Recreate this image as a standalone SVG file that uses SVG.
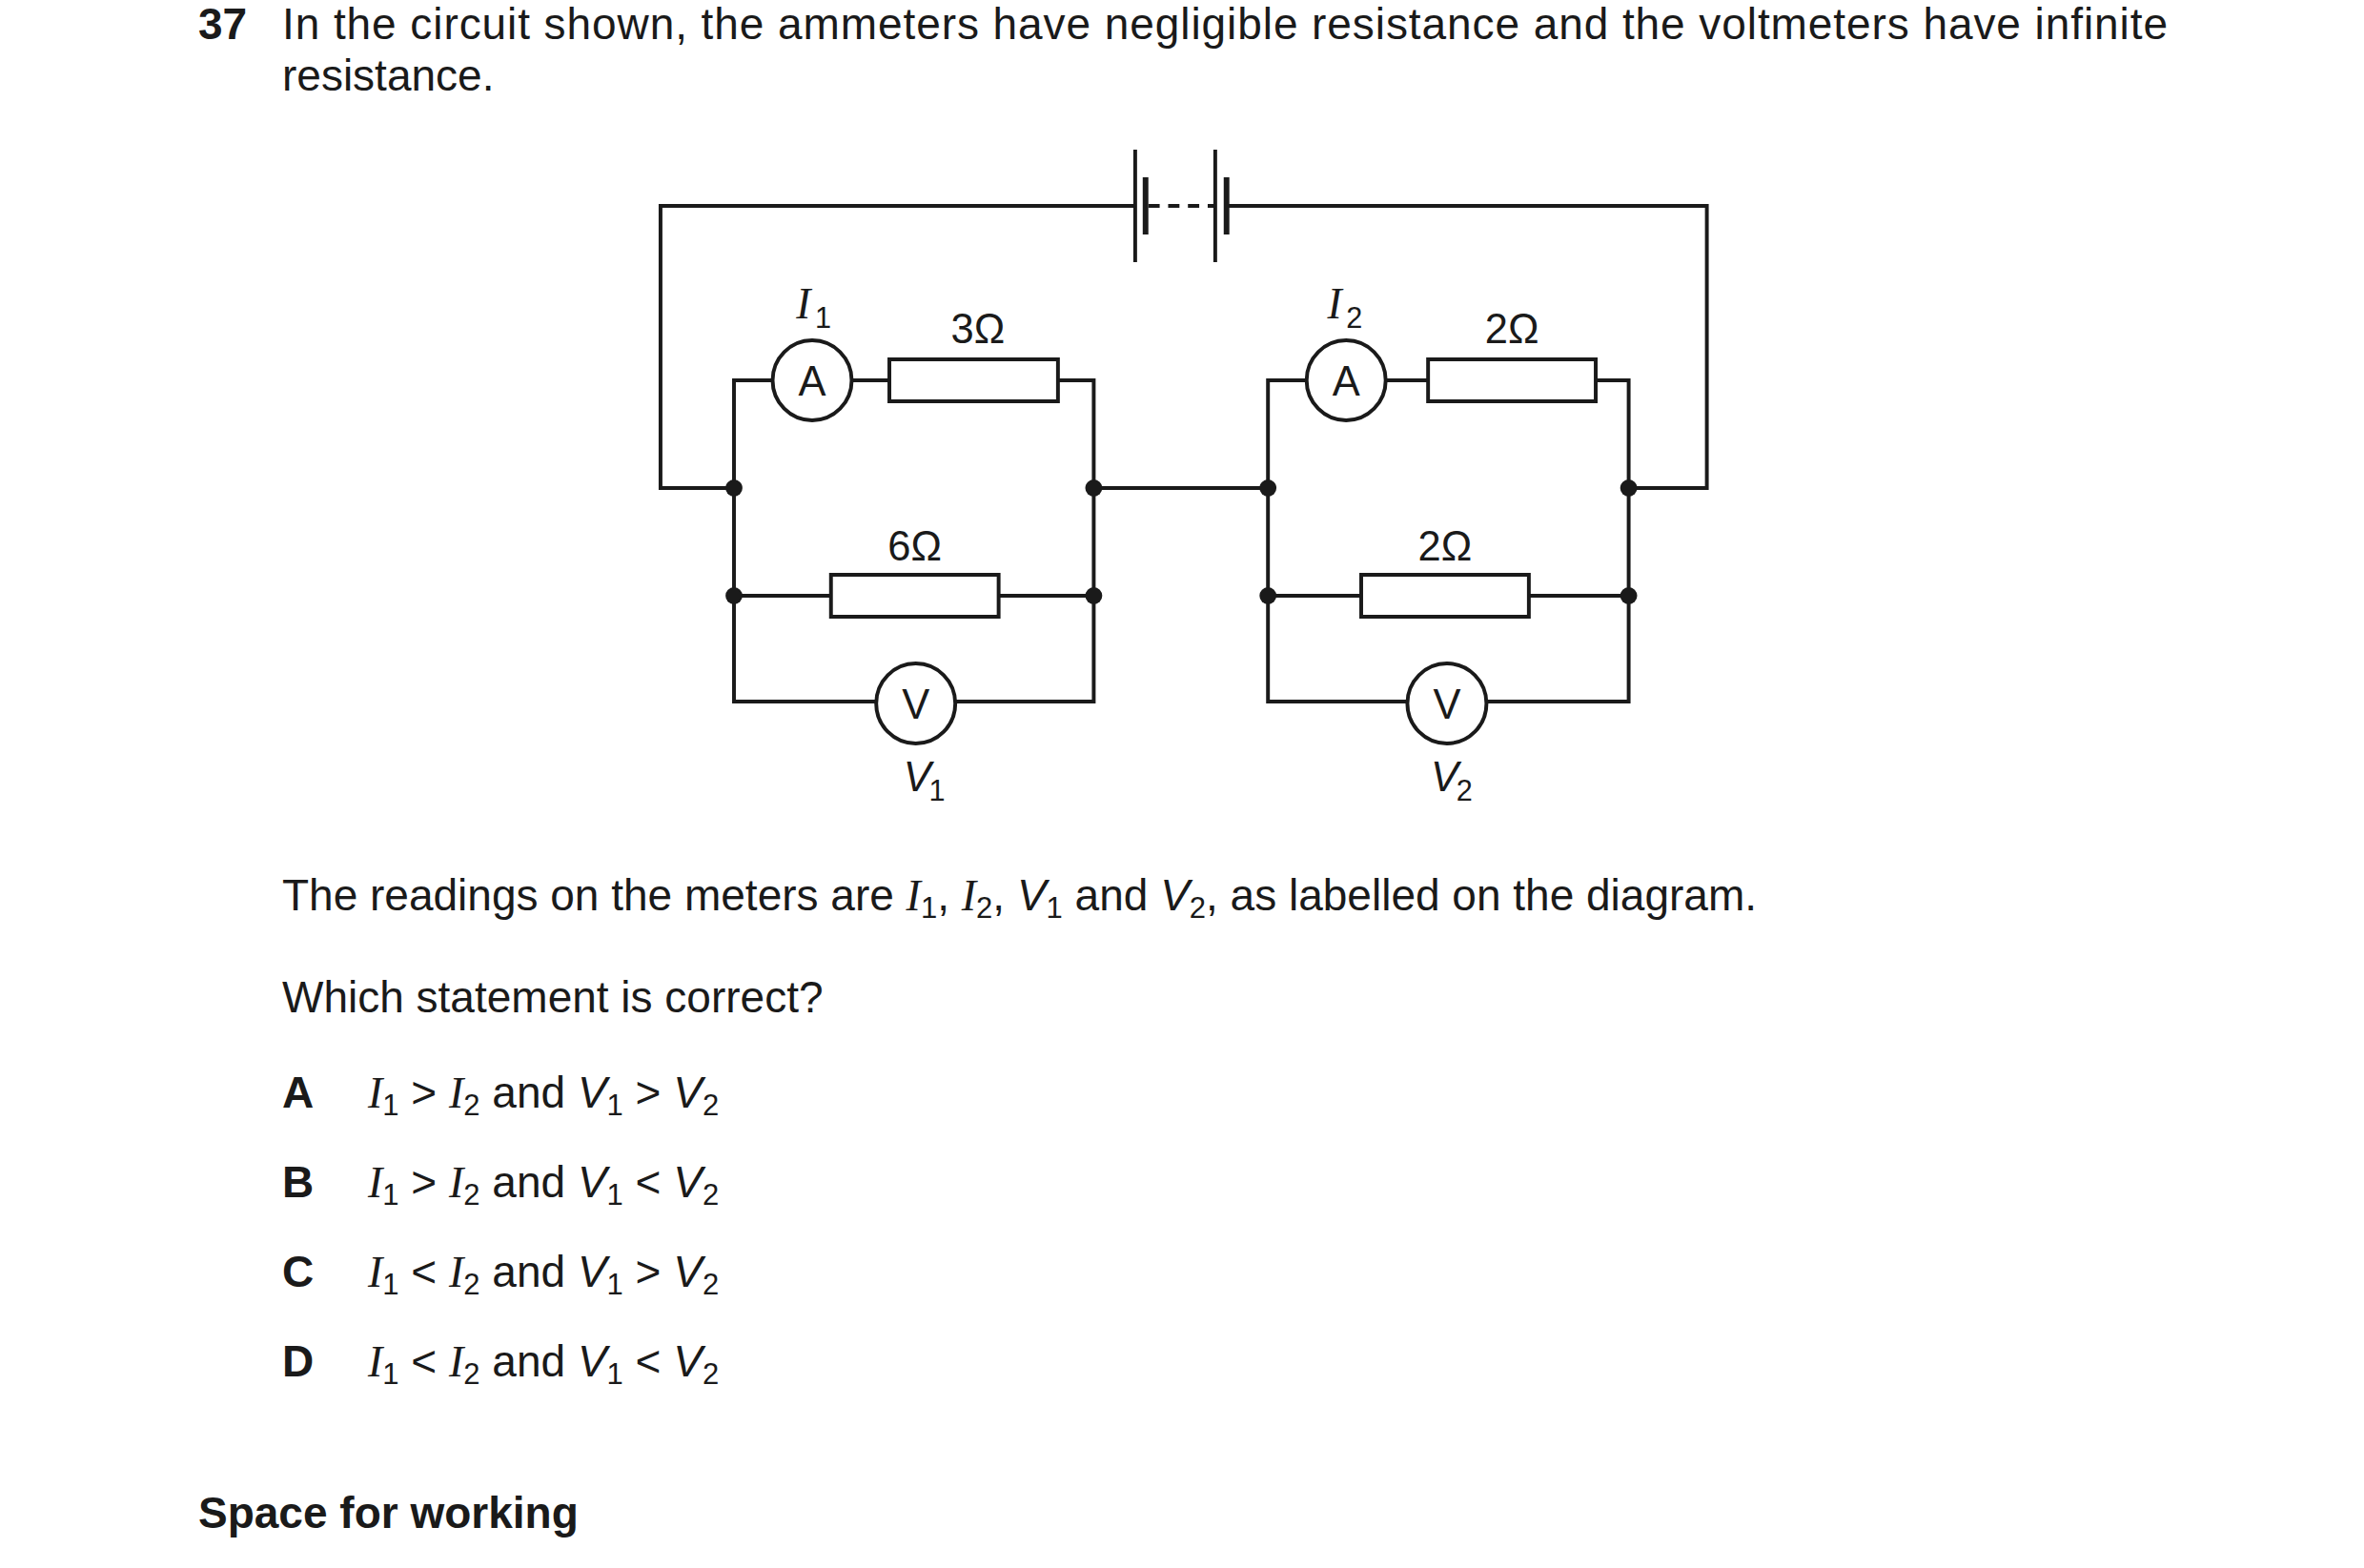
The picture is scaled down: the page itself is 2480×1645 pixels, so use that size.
<svg xmlns="http://www.w3.org/2000/svg" width="2480" height="1645" viewBox="0 0 2480 1645">
<style>
.w{fill:none;stroke:#1a1a1a;stroke-width:4}
.r{fill:#fff;stroke:#1a1a1a;stroke-width:4}
.d{fill:#1a1a1a}
text{font-family:"Liberation Sans",Arial,sans-serif;fill:#1a1a1a}
.t{font-size:46px}
.b{font-weight:bold}
.l{font-size:44px}
.i{font-family:"Liberation Serif","Times New Roman",serif;font-style:italic}
.s{font-size:31px}
</style>
<rect width="2480" height="1645" fill="#fff"/>
<g id="question">
<text class="t b" x="208" y="41">37</text>
<text class="t" x="296" y="41" textLength="1978" lengthAdjust="spacing">In the circuit shown, the ammeters have negligible resistance and the voltmeters have infinite</text>
<text class="t" x="296" y="95">resistance.</text>
</g>
<g transform="translate(770,0) scale(0.988,1) translate(-770,0)">
<g id="connectors">
<polyline class="w" points="770,512 692,512 692,216 1196,216"/>
<polyline class="w" points="1293,216 1803,216 1803,512 1720,512"/>
<line class="w" x1="1210" y1="216" x2="1281" y2="216" stroke-dasharray="12,9"/>
<polyline class="w" points="811,399 770,399 770,736 921,736"/>
<line class="w" x1="895" y1="399" x2="935" y2="399"/>
<polyline class="w" points="1114,399 1152,399 1152,736 1005,736"/>
<line class="w" x1="770" y1="625" x2="873" y2="625"/>
<line class="w" x1="1051" y1="625" x2="1152" y2="625"/>
<line class="w" x1="1152" y1="512" x2="1337" y2="512"/>
<polyline class="w" points="1378,399 1337,399 1337,736 1485,736"/>
<line class="w" x1="1462" y1="399" x2="1507" y2="399"/>
<polyline class="w" points="1685,399 1720,399 1720,736 1569,736"/>
<line class="w" x1="1337" y1="625" x2="1436" y2="625"/>
<line class="w" x1="1614" y1="625" x2="1720" y2="625"/>
</g>
<g id="battery">
<line class="w" x1="1196" y1="157" x2="1196" y2="275"/>
<line x1="1207" y1="186" x2="1207" y2="246" stroke="#1a1a1a" stroke-width="6"/>
<line class="w" x1="1281" y1="157" x2="1281" y2="275"/>
<line x1="1293" y1="186" x2="1293" y2="246" stroke="#1a1a1a" stroke-width="6"/>
</g>
<g id="junctions">
<circle class="d" cx="770" cy="512" r="9"/><circle class="d" cx="1152" cy="512" r="9"/>
<circle class="d" cx="1337" cy="512" r="9"/><circle class="d" cx="1720" cy="512" r="9"/>
<circle class="d" cx="770" cy="625" r="9"/><circle class="d" cx="1152" cy="625" r="9"/>
<circle class="d" cx="1337" cy="625" r="9"/><circle class="d" cx="1720" cy="625" r="9"/>
</g>
<g id="ammeter1"><circle class="r" cx="853" cy="399" r="42"/><text class="l" x="853" y="415" text-anchor="middle">A</text>
<text x="836" y="334" font-size="46" class="i">I</text><text class="s" x="856" y="344">1</text></g>
<g id="res3"><rect class="r" x="935" y="377" width="179" height="44"/><text class="l" x="1029" y="360" text-anchor="middle">3Ω</text></g>
<g id="res6"><rect class="r" x="873" y="603" width="178" height="44"/><text class="l" x="962" y="588" text-anchor="middle">6Ω</text></g>
<g id="volt1"><circle class="r" cx="963" cy="738" r="42"/><text class="l" x="963" y="754" text-anchor="middle">V</text>
<text font-size="44" font-style="italic" x="950" y="830">V</text><text class="s" x="977" y="840">1</text></g>
<g id="ammeter2"><circle class="r" cx="1420" cy="399" r="42"/><text class="l" x="1420" y="415" text-anchor="middle">A</text>
<text x="1400" y="334" font-size="46" class="i">I</text><text class="s" x="1420" y="344">2</text></g>
<g id="res2a"><rect class="r" x="1507" y="377" width="178" height="44"/><text class="l" x="1596" y="360" text-anchor="middle">2Ω</text></g>
<g id="res2b"><rect class="r" x="1436" y="603" width="178" height="44"/><text class="l" x="1525" y="588" text-anchor="middle">2Ω</text></g>
<g id="volt2"><circle class="r" cx="1527" cy="738" r="42"/><text class="l" x="1527" y="754" text-anchor="middle">V</text>
<text font-size="44" font-style="italic" x="1510" y="830">V</text><text class="s" x="1537" y="840">2</text></g>
</g>
<g id="body">
<text class="t" x="296" y="955">The readings on the meters are <tspan class="i">I</tspan><tspan class="s" dy="8">1</tspan><tspan dy="-8">, </tspan><tspan class="i">I</tspan><tspan class="s" dy="8">2</tspan><tspan dy="-8">, </tspan><tspan font-style="italic">V</tspan><tspan class="s" dy="8">1</tspan><tspan dy="-8"> and </tspan><tspan font-style="italic">V</tspan><tspan class="s" dy="8">2</tspan><tspan dy="-8">, as labelled on the diagram.</tspan></text>
<text class="t" x="296" y="1062">Which statement is correct?</text>
<text class="t b" x="296" y="1162">A</text>
<text class="t b" x="296" y="1256">B</text>
<text class="t b" x="296" y="1350">C</text>
<text class="t b" x="296" y="1444">D</text>
<text class="t" x="386" y="1162"><tspan class="i">I</tspan><tspan class="s" dy="8">1</tspan><tspan dy="-8"> &gt; </tspan><tspan class="i">I</tspan><tspan class="s" dy="8">2</tspan><tspan dy="-8"> and </tspan><tspan font-style="italic">V</tspan><tspan class="s" dy="8">1</tspan><tspan dy="-8"> &gt; </tspan><tspan font-style="italic">V</tspan><tspan class="s" dy="8">2</tspan></text>
<text class="t" x="386" y="1256"><tspan class="i">I</tspan><tspan class="s" dy="8">1</tspan><tspan dy="-8"> &gt; </tspan><tspan class="i">I</tspan><tspan class="s" dy="8">2</tspan><tspan dy="-8"> and </tspan><tspan font-style="italic">V</tspan><tspan class="s" dy="8">1</tspan><tspan dy="-8"> &lt; </tspan><tspan font-style="italic">V</tspan><tspan class="s" dy="8">2</tspan></text>
<text class="t" x="386" y="1350"><tspan class="i">I</tspan><tspan class="s" dy="8">1</tspan><tspan dy="-8"> &lt; </tspan><tspan class="i">I</tspan><tspan class="s" dy="8">2</tspan><tspan dy="-8"> and </tspan><tspan font-style="italic">V</tspan><tspan class="s" dy="8">1</tspan><tspan dy="-8"> &gt; </tspan><tspan font-style="italic">V</tspan><tspan class="s" dy="8">2</tspan></text>
<text class="t" x="386" y="1444"><tspan class="i">I</tspan><tspan class="s" dy="8">1</tspan><tspan dy="-8"> &lt; </tspan><tspan class="i">I</tspan><tspan class="s" dy="8">2</tspan><tspan dy="-8"> and </tspan><tspan font-style="italic">V</tspan><tspan class="s" dy="8">1</tspan><tspan dy="-8"> &lt; </tspan><tspan font-style="italic">V</tspan><tspan class="s" dy="8">2</tspan></text>
<text class="t b" x="208" y="1603">Space for working</text>
</g>
</svg>
